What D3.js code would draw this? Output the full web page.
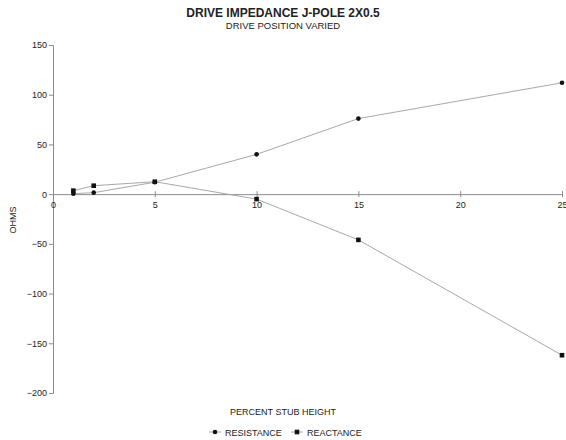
<!DOCTYPE html>
<html>
<head>
<meta charset="utf-8">
<script src="https://cdn.jsdelivr.net/npm/d3@7/dist/d3.min.js"></script>
<style>
  body { margin: 0; background: #fff; }
  svg { display: block; font-family: "Liberation Sans", Arial, sans-serif; }
</style>
</head>
<body>
<svg id="chart" width="566" height="440"></svg>
<script>
// Drive impedance of a 2x0.5 J-pole vs. feed point position on the stub
const stubPercent = [1, 2, 5, 10, 15, 25];
const resistance = [0.5, 1.5, 12, 40, 76, 112];
const reactance = [3.5, 8.5, 12.5, -5, -46, -162];
const xTicks = [0, 5, 10, 15, 20, 25];
const yTicks = [150, 100, 50, 0, -50, -100, -150, -200];

const svg = d3.select("#chart");
const x = d3.scaleLinear().domain([0, 25]).range([53, 562]);
const y = d3.scaleLinear().domain([-200, 150]).range([393, 45]);

const axisColor = "#8c8c8c";
const lineColor = "#a8a8a8";

// Titles
svg.append("text").attr("x", 283).attr("y", 17).attr("text-anchor", "middle")
  .attr("font-size", 12).attr("font-weight", "bold").attr("fill", "#222")
  .text("DRIVE IMPEDANCE J-POLE 2X0.5");
svg.append("text").attr("x", 283).attr("y", 29).attr("text-anchor", "middle")
  .attr("font-size", 9.5).attr("fill", "#222")
  .text("DRIVE POSITION VARIED");

// Y axis
const yAxis = svg.append("g").attr("transform", `translate(${x(0)},0)`)
  .call(d3.axisLeft(y).tickValues(yTicks).tickSize(4).tickPadding(2).tickFormat(d3.format("d")));
yAxis.select(".domain").attr("stroke", axisColor);
yAxis.selectAll(".tick line").attr("stroke", axisColor);
yAxis.selectAll(".tick text").attr("font-size", 9).attr("fill", "#222")
  .attr("font-family", "Liberation Sans, Arial, sans-serif");

// X axis along zero line
const xAxis = svg.append("g").attr("transform", `translate(0,${y(0)})`)
  .call(d3.axisBottom(x).tickValues(xTicks).tickSizeInner(3).tickSizeOuter(0).tickPadding(4).tickFormat(d3.format("d")));
xAxis.select(".domain").attr("stroke", axisColor);
xAxis.selectAll(".tick line").attr("stroke", axisColor).attr("y1", -3);
xAxis.selectAll(".tick text").attr("font-size", 9).attr("fill", "#222")
  .attr("font-family", "Liberation Sans, Arial, sans-serif");

// Axis titles
svg.append("text").attr("transform", `translate(16,220) rotate(-90)`)
  .attr("text-anchor", "middle").attr("font-size", 9).attr("fill", "#222").text("OHMS");
svg.append("text").attr("x", 283).attr("y", 415).attr("text-anchor", "middle")
  .attr("font-size", 9).attr("fill", "#222").text("PERCENT STUB HEIGHT");

// Series
const line = d3.line().x(d => x(d[0])).y(d => y(d[1]));
const resPts = stubPercent.map((v, i) => [v, resistance[i]]);
const reaPts = stubPercent.map((v, i) => [v, reactance[i]]);

svg.append("path").datum(resPts).attr("d", line).attr("fill", "none")
  .attr("stroke", lineColor).attr("stroke-width", 1);
svg.append("path").datum(reaPts).attr("d", line).attr("fill", "none")
  .attr("stroke", lineColor).attr("stroke-width", 1);

svg.append("g").selectAll("circle").data(resPts).join("circle")
  .attr("cx", d => x(d[0])).attr("cy", d => y(d[1])).attr("r", 2.3).attr("fill", "#111");
svg.append("g").selectAll("rect").data(reaPts).join("rect")
  .attr("x", d => x(d[0]) - 2.3).attr("y", d => y(d[1]) - 2.3)
  .attr("width", 4.6).attr("height", 4.6).attr("fill", "#111");

// Legend
const legend = svg.append("g").attr("transform", "translate(0,432)");
legend.append("line").attr("x1", 209).attr("x2", 221).attr("stroke", lineColor);
legend.append("circle").attr("cx", 215).attr("r", 2.3).attr("fill", "#111");
legend.append("text").attr("x", 225).attr("y", 3.5).attr("font-size", 9).attr("fill", "#222").text("RESISTANCE");
legend.append("line").attr("x1", 291).attr("x2", 303).attr("stroke", lineColor);
legend.append("rect").attr("x", 294.7).attr("y", -2.3).attr("width", 4.6).attr("height", 4.6).attr("fill", "#111");
legend.append("text").attr("x", 307).attr("y", 3.5).attr("font-size", 9).attr("fill", "#222").text("REACTANCE");
</script>
</body>
</html>
